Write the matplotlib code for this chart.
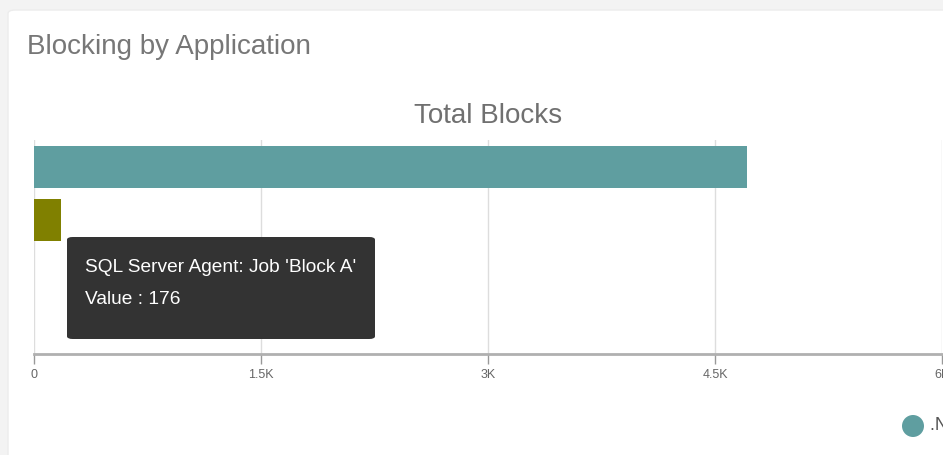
import matplotlib.pyplot as plt
from matplotlib.patches import FancyBboxPatch, Ellipse

plt.rcParams['font.family'] = ['Liberation Sans', 'DejaVu Sans']

apps = [".Net SqlClient Data Provider", "SQL Server Agent: Job 'Block A'",
        "SQL Server Agent: Job 'Block B'", "Other"]
blocks = [4712, 176, 2, 0]
colors = ['#5f9ea0', '#808000', '#cd5c5c', '#6a5acd']
ticks = [0, 1500, 3000, 4500, 6000]
tick_labels = ['0', '1.5K', '3K', '4.5K', '6K']

W, H = 943, 455
fig = plt.figure(figsize=(W / 100, H / 100), dpi=100)
fig.patch.set_facecolor('#f3f3f3')

# white card behind everything
card = FancyBboxPatch((8 / W, -0.05), 1.0, (H - 10) / H + 0.05,
                      boxstyle='round,pad=0,rounding_size=0.008',
                      transform=fig.transFigure, facecolor='white',
                      edgecolor='#ececec', linewidth=1, zorder=-5)
fig.patches.append(card)

fig.text(27 / W, 1 - 47 / H, 'Blocking by Application', fontsize=20,
         color='#777777', va='center', ha='left')

ax = fig.add_axes([34 / W, 1 - 354 / H, 908 / W, 214 / H])
ax.set_facecolor('none')
y = range(len(apps))
ax.barh(y, blocks, height=0.78, color=colors, zorder=3)
ax.set_ylim(len(apps) - 0.5, -0.5)
ax.set_xlim(0, 6000)
ax.set_xticks(ticks)
ax.set_xticklabels(tick_labels, fontsize=9, color='#666666')
ax.set_yticks([])
for s in ['top', 'right', 'left']:
    ax.spines[s].set_visible(False)
ax.spines['bottom'].set_color('#b0b0b0')
ax.spines['bottom'].set_linewidth(2)
ax.tick_params(axis='x', length=7, width=1, color='#999999', pad=4)
ax.grid(axis='x', color='#dddddd', linewidth=1, zorder=0)
ax.set_title('Total Blocks', fontsize=20, color='#707070', pad=12)

# tooltip
tip = FancyBboxPatch((67 / W, 1 - 339 / H), 308 / W, 102 / H,
                     boxstyle='round,pad=0,rounding_size=0.006',
                     transform=fig.transFigure, facecolor='#333333',
                     edgecolor='none', zorder=10)
fig.patches.append(tip)
fig.text(85 / W, 1 - 268 / H, apps[1], fontsize=13.8, color='white',
         va='center', ha='left', zorder=11)
fig.text(85 / W, 1 - 300 / H, 'Value : %d' % blocks[1], fontsize=13.8,
         color='white', va='center', ha='left', zorder=11)

# legend (first item, cut off by the edge)
fig.patches.append(Ellipse((913 / W, 1 - 426 / H), 22 / W, 22 / H,
                           transform=fig.transFigure, facecolor=colors[0],
                           edgecolor='none'))
fig.text(930 / W, 1 - 426 / H, apps[0], fontsize=13, color='#555555',
         va='center', ha='left')

fig.savefig('out.png', dpi=100, facecolor=fig.get_facecolor())
